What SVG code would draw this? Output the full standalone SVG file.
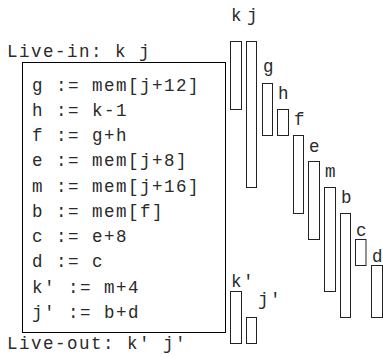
<svg xmlns="http://www.w3.org/2000/svg" width="383" height="358" viewBox="0 0 383 358">
<style>
text{font-family:"Liberation Mono","Courier New",monospace;font-size:17.5px;letter-spacing:1.5px;fill:#2a2a2a;}
.bar{fill:none;stroke:#222;stroke-width:1;}
.box{fill:none;stroke:#000;stroke-width:1;}
</style>
<rect width="383" height="358" fill="#fff"/>
<g id="live-in"><text x="7" y="57">Live-in: k j</text></g>
<g id="code">
<rect class="box" x="22.5" y="62.5" width="203" height="270"/>
<text x="32" y="91">g := mem[j+12]</text>
<text x="32" y="116">h := k-1</text>
<text x="32" y="141">f := g+h</text>
<text x="32" y="166">e := mem[j+8]</text>
<text x="32" y="192">m := mem[j+16]</text>
<text x="32" y="217">b := mem[f]</text>
<text x="32" y="242">c := e+8</text>
<text x="32" y="267">d := c</text>
<text x="32" y="293">k′ := m+4</text>
<text x="32" y="318">j′ := b+d</text>
</g>
<g id="live-out"><text x="7" y="349">Live-out: k′ j′</text></g>
<g id="bar-k"><rect class="bar" x="230.5" y="41.5" width="11" height="68"/><text x="231" y="21">k</text></g>
<g id="bar-j"><rect class="bar" x="246.5" y="41.5" width="10" height="146"/><text x="247" y="21">j</text></g>
<g id="bar-g"><rect class="bar" x="262.5" y="83.5" width="10" height="52"/><text x="263" y="72">g</text></g>
<g id="bar-h"><rect class="bar" x="277.5" y="109.5" width="11" height="26"/><text x="278" y="99">h</text></g>
<g id="bar-f"><rect class="bar" x="293.5" y="135.5" width="10" height="78"/><text x="294" y="125">f</text></g>
<g id="bar-e"><rect class="bar" x="308.5" y="161.5" width="11" height="78"/><text x="309" y="152">e</text></g>
<g id="bar-m"><rect class="bar" x="324.5" y="187.5" width="11" height="104"/><text x="325" y="177">m</text></g>
<g id="bar-b"><rect class="bar" x="340.5" y="213.5" width="10" height="104"/><text x="341" y="203">b</text></g>
<g id="bar-c"><rect class="bar" x="355.5" y="239.5" width="10.5" height="26"/><text x="356" y="236">c</text></g>
<g id="bar-d"><rect class="bar" x="371.5" y="265.5" width="11" height="52"/><text x="372" y="262">d</text></g>
<g id="bar-k2"><rect class="bar" x="230.5" y="291.5" width="11" height="52"/><text x="231" y="287">k′</text></g>
<g id="bar-j2"><rect class="bar" x="246.5" y="317.5" width="10" height="26"/><text x="258" y="305">j′</text></g>
</svg>
